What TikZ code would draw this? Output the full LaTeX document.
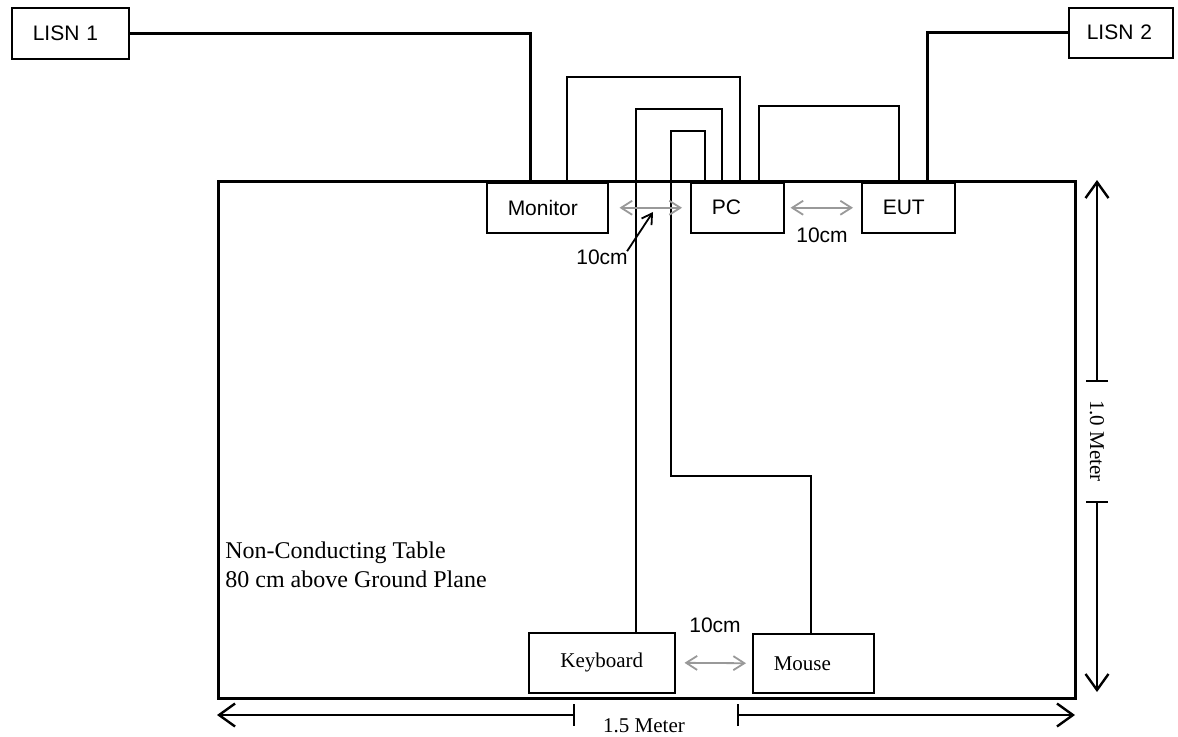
\documentclass[tikz,border=0pt]{standalone}
\usepackage{fontspec}
\setmainfont{Liberation Serif}
\newfontfamily\arialfont{Liberation Sans}
\usetikzlibrary{arrows.meta,calc}

\begin{document}
\begin{tikzpicture}[x=0.5pt,y=-0.5pt,
    box/.style={draw,line width=0.75pt,anchor=north west,inner xsep=10.5pt,inner ysep=0pt,align=left,
        font=\arialfont\fontsize{10.5}{12}\selectfont},
    cable/.style={line width=0.9pt},
    power/.style={line width=1.5pt},
    gap/.style={draw=black!40,line width=0.9pt,{Straight Barb[length=5.5pt,width=7pt]}-{Straight Barb[length=5.5pt,width=7pt]}},
    dist/.style={font=\arialfont\fontsize{10.5}{12}\selectfont,inner sep=1pt},
    dim/.style={line width=0.8pt},
    barb/.tip={Straight Barb[length=8pt,width=11.5pt,line width=1.2pt]},
    tick/.tip={Bar[width=11pt]}]
    \useasboundingbox (0,0) rectangle (1178,736);

    \node[box,text width=37.5pt,minimum height=25.5pt] (lisn1) at (11,7) {LISN 1};
    \node[box,inner xsep=9pt,text width=34pt,minimum height=25pt] (lisn2) at (1068,7) {LISN 2};
    \node[box,text width=39.5pt,minimum height=25pt] (monitor) at (486,182) {Monitor};
    \node[box,text width=25.5pt,minimum height=25pt] (pc) at (690,182) {PC};
    \node[box,text width=25.5pt,minimum height=25pt] (eut) at (861,182) {EUT};
    \node[box,align=center,inner xsep=0pt,text width=73pt,minimum height=30pt,font=\fontsize{10.5}{12}\selectfont] (keyboard) at (528,632) {Keyboard};
    \node[box,text width=39.5pt,minimum height=29.5pt,font=\fontsize{10.5}{12}\selectfont] (mouse) at (752,633) {Mouse};

    \draw[power] (lisn1.east) -| ([xshift=22pt]monitor.north west);
    \draw[power] ([xshift=33pt]eut.north west) |- (lisn2.west);
    \draw[cable] ([xshift=40.5pt]monitor.north west) -- ++(0,-105) -| ([xshift=25pt]pc.north west);
    \draw[cable] ([xshift=54pt]keyboard.north west) -- ++(0,-523) -| ([xshift=16pt]pc.north west);
    \draw[cable] ([xshift=29.5pt]mouse.north west) -- ++(0,-157) -- ++(-140,0) -- ++(0,-345) -| ([xshift=7.5pt]pc.north west);
    \draw[cable] ([xshift=34.5pt]pc.north west) -- ++(0,-76) -| ([xshift=19pt]eut.north west);

    \node[draw,line width=1.5pt,anchor=north west,inner sep=0pt,minimum width=428.5pt,minimum height=258.5pt] (table) at (217,180) {};
    \node[anchor=west,align=left,font=\fontsize{12}{14.5}\selectfont,inner sep=0pt] (tabletext) at (225,565) {Non-Conducting Table\\80 cm above Ground Plane};

    \draw[gap,shorten <=5.5pt,shorten >=4pt] (monitor.east) -- (pc.west);
    \draw[gap,shorten <=3pt,shorten >=4pt] (pc.east) -- (eut.west);
    \draw[gap,shorten <=4.5pt,shorten >=3pt] (keyboard.east) -- (mouse.west);
    \node[dist] (d1) at (602,257) {10cm};
    \node[dist] (d2) at (822,235) {10cm};
    \node[dist] (d3) at (715,625) {10cm};
    \coordinate (d1tip) at (653,212);
    \draw[line width=0.9pt,-{Straight Barb[length=5pt,width=6pt]}] ([shift={(-3,4)}]d1.north east) -- (d1tip);

    \coordinate (htop) at (1097,180);
    \coordinate (hmid1) at (1097,382);
    \coordinate (hmid2) at (1097,501);
    \coordinate (hbot) at (1097,692);
    \draw[dim,{barb}-{tick}] (htop) -- (hmid1);
    \draw[dim,{tick}-{barb}] (hmid2) -- (hbot);
    \node[rotate=-90,font=\fontsize{10.5}{12}\selectfont] (hlabel) at (1097,441) {1.0 Meter};

    \coordinate (wleft) at (217,715);
    \coordinate (wmid1) at (575,715);
    \coordinate (wmid2) at (737,715);
    \coordinate (wright) at (1075,715);
    \draw[dim,{barb}-{tick}] (wleft) -- (wmid1);
    \draw[dim,{tick}-{barb}] (wmid2) -- (wright);
    \node[font=\fontsize{10.5}{12}\selectfont] (wlabel) at (644,726) {1.5 Meter};
\end{tikzpicture}
\end{document}
